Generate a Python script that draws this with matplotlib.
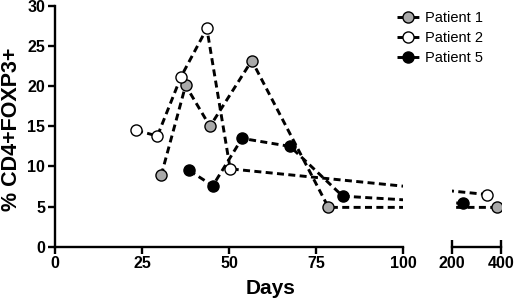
import numpy as np
import matplotlib
matplotlib.use("Agg")
import matplotlib.pyplot as plt
from matplotlib.lines import Line2D

plt.rcParams['font.family'] = ['Liberation Sans', 'DejaVu Sans']

# Data (days, % CD4+FOXP3+)
p1_days = [30.5, 37.5, 44.5, 56.5, 78.5, 384]
p1_vals = [8.9, 20.1, 15.0, 23.2, 4.9, 4.9]
p2_days = [23.3, 29.4, 36.2, 43.6, 50.3, 345]
p2_vals = [14.5, 13.8, 21.2, 27.2, 9.7, 6.5]
p5_days = [38.5, 45.3, 53.7, 67.5, 82.6, 245]
p5_vals = [9.5, 7.6, 13.5, 12.5, 6.3, 5.4]

series = [("Patient 1", p1_days, p1_vals, "#a9a9a9"),
          ("Patient 2", p2_days, p2_vals, "white"),
          ("Patient 5", p5_days, p5_vals, "black")]

left_ticks = [0, 25, 50, 75, 100]
right_ticks = [200, 400]
y_ticks = [0, 5, 10, 15, 20, 25, 30]

# broken-axis scale (continuous visual coordinate)
GAP = 13.9
K = 14.08 / 200.0

def fwd(x):
    x = np.asarray(x, dtype=float)
    return np.where(x <= 100, x,
                    np.where(x >= 200, 100 + GAP + (x - 200) * K,
                             100 + (x - 100) * GAP / 100.0))

def inv(u):
    u = np.asarray(u, dtype=float)
    return np.where(u <= 100, u,
                    np.where(u >= 100 + GAP, 200 + (u - 100 - GAP) / K,
                             100 + (u - 100) * 100.0 / GAP))

W, H = 520, 304
fig = plt.figure(figsize=(W / 100, H / 100), dpi=100)
ax1 = fig.add_axes([55 / W, (H - 246.7) / H, 348.3 / W, 240.7 / H])
ax2 = fig.add_axes([451.7 / W, (H - 246.7) / H, 49 / W, 240.7 / H])

ls = (0, (2.4, 1.5))
for ax in (ax1, ax2):
    ax.set_xscale('function', functions=(fwd, inv))
    ax.set_ylim(0, 30)
    for name, d, v, c in series:
        ax.plot(d, v, linestyle=ls, color='black', lw=2.1, marker='o',
                markersize=8, markerfacecolor=c, markeredgecolor='black',
                markeredgewidth=1.0, label=name, clip_on=True)
    for s in ('top', 'right'):
        ax.spines[s].set_visible(False)
    ax.spines['bottom'].set_linewidth(1.7)
    ax.set_facecolor('none')

ax1.set_xlim(0, 100)
ax1.set_xticks(left_ticks)
ax1.set_xticklabels([str(t) for t in left_ticks])
ax1.set_xticks([100], minor=True)
ax1.tick_params(axis='x', which='minor', direction='in', length=5, width=1.7)
ax1.set_yticks(y_ticks)
ax1.spines['left'].set_linewidth(1.7)
ax1.tick_params(axis='both', which='major', direction='out', length=5, width=1.7,
                labelsize=11.5, pad=2)
for lab in ax1.get_xticklabels() + ax1.get_yticklabels():
    lab.set_fontweight('bold')

ax2.set_xlim(200, 400)
ax2.set_xticks(right_ticks)
ax2.set_xticklabels([str(t) for t in right_ticks])
ax2.xaxis.set_minor_locator(matplotlib.ticker.NullLocator())
ax2.spines['left'].set_visible(False)
ax2.set_yticks([])
ax2.tick_params(axis='x', which='major', direction='inout', length=10, width=1.7,
                labelsize=11.5, pad=2)
for lab in ax2.get_xticklabels():
    lab.set_fontweight('bold')

fig.text(271 / W, 1 - 288 / H, "Days", ha='center', va='center',
         fontsize=15, fontweight='bold')
fig.text(12 / W, 1 - 129 / H, "% CD4+FOXP3+", ha='center', va='center',
         rotation=90, fontsize=15.5, fontweight='bold')

handles = [Line2D([], [], linestyle=(0, (2.0, 3.5)), color='black', lw=2.1,
                  marker='o', markersize=8, markerfacecolor=c,
                  markeredgecolor='black', markeredgewidth=1.0, label=name)
           for name, d, v, c in series]
leg = ax1.legend(handles=handles, loc='upper left',
                 bbox_to_anchor=(397 / W, 1 - 11 / H),
                 bbox_transform=fig.transFigure, frameon=False,
                 fontsize=10.5, handlelength=1.55, handletextpad=0.35,
                 labelspacing=0.4, borderaxespad=0, borderpad=0)

fig.savefig("out.png", dpi=100)
